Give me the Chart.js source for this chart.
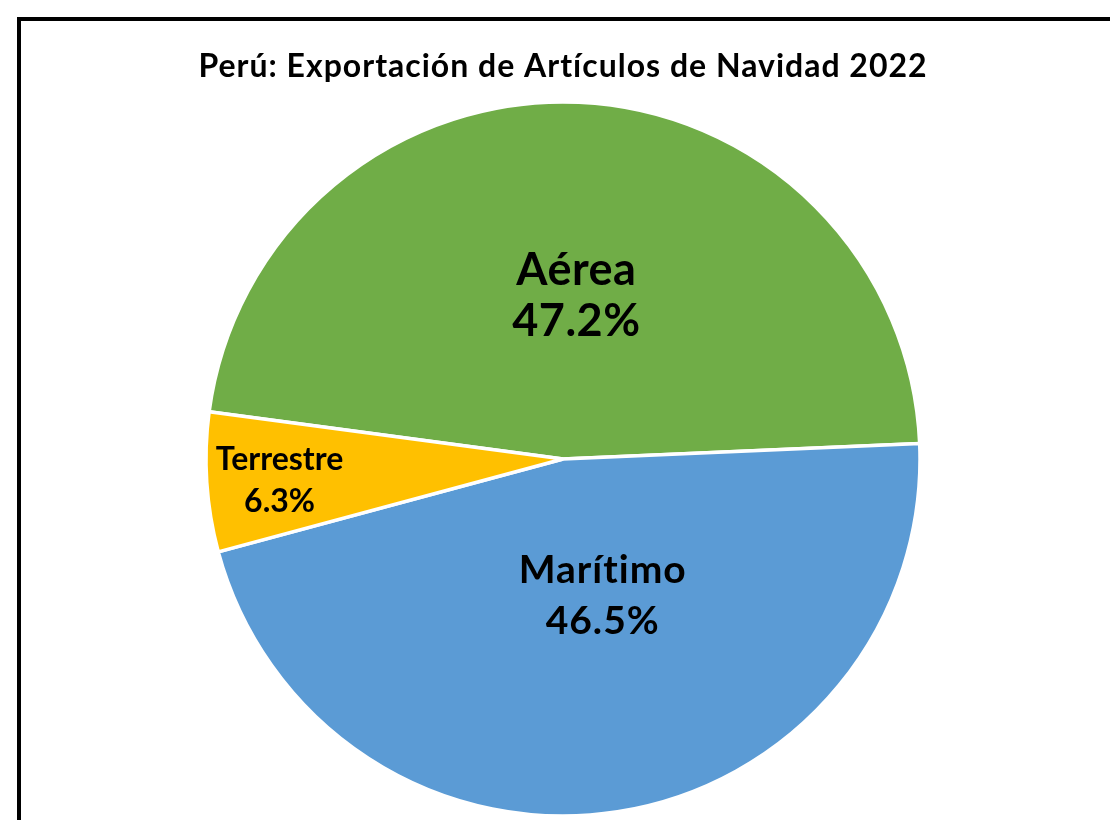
<!DOCTYPE html>
<html>
<head>
<meta charset="utf-8">
<script src="https://cdn.jsdelivr.net/npm/chart.js@4"></script>
<style>
  html, body { margin: 0; padding: 0; background: #fff; overflow: hidden; }
  #wrap { position: relative; width: 1110px; height: 820px; }
  #c { position: absolute; left: 0; top: 0; }
  #frame { position: absolute; left: 17px; top: 17px; width: 1200px; height: 900px;
           border: 4px solid #000; pointer-events: none; }
</style>
</head>
<body>
<div id="wrap">
  <canvas id="c" width="1110" height="820"></canvas>
  <div id="frame"></div>
</div>
<script>
const categories = ["Aérea", "Marítimo", "Terrestre"];
const shares = [47.2, 46.5, 6.3];
const percentLabels = ["47.2%", "46.5%", "6.3%"];
const sliceColors = ["#70AD47", "#5B9BD5", "#FFC000"];
const chartTitle = "Perú: Exportación de Artículos de Navidad 2022";

// label placement styles (fraction of radius, angle tweak in degrees, font size, line gap)
const labelStyle = [
  { frac: 0.462, dAng: 2.0,  size: 45, gap: 51,   spacing: 0.5 },
  { frac: 0.395, dAng: -7.35, size: 39, gap: 50.5, spacing: 1 },
  { frac: 0.796, dAng: -0.4, size: 32, gap: 42,   spacing: 0 }
];

const titleSpacing = {
  id: 'titleSpacing',
  beforeDraw(chart) { chart.ctx.letterSpacing = '1px'; },
  beforeDatasetsDraw(chart) { chart.ctx.letterSpacing = '0px'; }
};

const sliceLabels = {
  id: 'sliceLabels',
  afterDatasetsDraw(chart) {
    const ctx = chart.ctx;
    const meta = chart.getDatasetMeta(0);
    meta.data.forEach((arc, i) => {
      const p = arc.getProps(['x', 'y', 'startAngle', 'endAngle', 'outerRadius'], true);
      const st = labelStyle[i];
      const mid = (p.startAngle + p.endAngle) / 2 + st.dAng * Math.PI / 180;
      const r = p.outerRadius * st.frac;
      const cx = p.x + Math.cos(mid) * r;
      const cy = p.y + Math.sin(mid) * r;
      ctx.save();
      ctx.fillStyle = '#000';
      ctx.textAlign = 'center';
      ctx.textBaseline = 'alphabetic';
      ctx.letterSpacing = st.spacing + 'px';
      ctx.font = 'bold ' + st.size + 'px Lato';
      const capHalf = 0.358 * st.size;
      ctx.fillText(categories[i], cx + st.spacing / 2, cy - st.gap / 2 + capHalf);
      ctx.fillText(percentLabels[i], cx + st.spacing / 2, cy + st.gap / 2 + capHalf);
      ctx.restore();
    });
  }
};

new Chart(document.getElementById('c'), {
  type: 'pie',
  data: {
    labels: categories,
    datasets: [{
      data: shares,
      backgroundColor: sliceColors,
      borderColor: '#ffffff',
      borderWidth: 3.5,
      hoverOffset: 0
    }]
  },
  options: {
    responsive: false,
    animation: false,
    rotation: 277.6,
    radius: 357,
    layout: { padding: { left: 16, right: 0, top: 0, bottom: 0 } },
    plugins: {
      legend: { display: false },
      tooltip: { enabled: false },
      title: {
        display: true,
        text: chartTitle,
        color: '#000',
        font: { family: 'Lato', size: 32, weight: 'bold', lineHeight: 1.2 },
        padding: { top: 47.8, bottom: 11.8 }
      }
    }
  },
  plugins: [titleSpacing, sliceLabels]
});
</script>
</body>
</html>
